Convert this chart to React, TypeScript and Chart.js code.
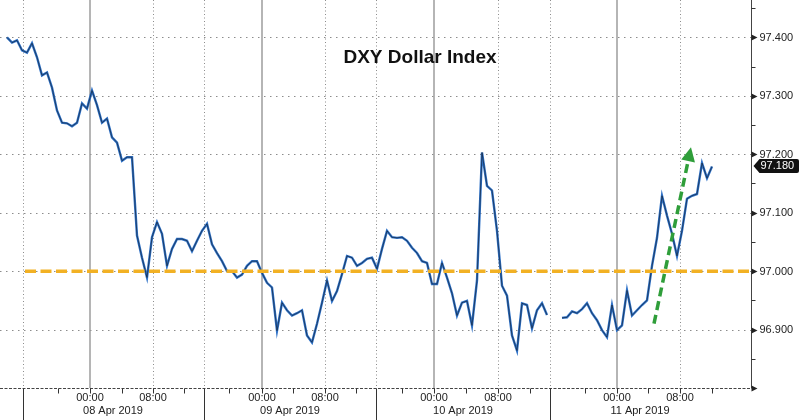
import React, { useEffect, useRef } from "react";
import { Chart, registerables } from "chart.js";

Chart.register(...registerables);

// DXY closes, one value per bar (evenly spaced bars), null = no trading
const dxy: (number | null)[] = [
  97.400, 97.391, 97.395, 97.378, 97.374, 97.390, 97.366, 97.335, 97.340, 97.314,
  97.275, 97.254, 97.253, 97.248, 97.254, 97.287, 97.278, 97.309, 97.284, 97.254,
  97.261, 97.229, 97.220, 97.189, 97.195, 97.195, 97.061, 97.023, 96.989, 97.058,
  97.084, 97.064, 97.009, 97.038, 97.055, 97.055, 97.052, 97.034, 97.052, 97.069,
  97.081, 97.046, 97.031, 97.017, 97.000, 97.000, 96.989, 96.994, 97.009, 97.017,
  97.017, 96.997, 96.980, 96.972, 96.898, 96.946, 96.933, 96.924, 96.928, 96.933,
  96.890, 96.878, 96.910, 96.946, 96.984, 96.949, 96.966, 96.995, 97.026, 97.023,
  97.009, 97.014, 97.021, 97.023, 97.004, 97.038, 97.069, 97.058, 97.057, 97.058,
  97.052, 97.040, 97.031, 97.017, 97.014, 96.978, 96.978, 97.014, 96.989, 96.962,
  96.924, 96.946, 96.949, 96.907, 96.984, 97.203, 97.146, 97.138, 97.069, 96.975,
  96.958, 96.890, 96.864, 96.945, 96.942, 96.902, 96.933, 96.945, 96.925, null,
  null, 96.920, 96.921, 96.931, 96.928, 96.935, 96.945, 96.928, 96.916, 96.899,
  96.887, 96.942, 96.899, 96.907, 96.967, 96.924, 96.933, 96.942, 96.950, 97.009,
  97.057, 97.129, 97.095, 97.064, 97.026, 97.069, 97.124, 97.129, 97.132, 97.185,
  97.159, 97.179,
];

// axis (bar-index units on x)
const xMin = -1.4;
const xMax = 148.8;
const yMin = 96.8;
const yMax = 97.464;
const yMajorTicks = [96.9, 97.0, 97.1, 97.2, 97.3, 97.4];
const yMinorTicks = [96.85, 96.95, 97.05, 97.15, 97.25, 97.35, 97.45];
const daySeparators = [3.2, 39.4, 73.8, 108.6];
const midnightTicks = [16.6, 51, 85.4, 122];
const eightTicks = [29.2, 63.6, 98.2, 134.6];
const minorXTicks = [10.2, 23, 35.4, 44.4, 57.2, 69.8, 79, 91.8, 104.6, 115.6, 128.2, 141];
const dateLabels = ["08 Apr 2019", "09 Apr 2019", "10 Apr 2019", "11 Apr 2019"];
const dateCenters = [21.2, 56.6, 91.2, 126.6];

const refLevel = 97.0;
const refStart = 3.6;
const arrowFrom = { x: 129.4, y: 96.91 };
const arrowTo = { x: 136.8, y: 97.212 };
const lastPrice = 97.18;
const title = "DXY Dollar Index";

const FONT = "'Liberation Sans', Arial, sans-serif";

const deco = {
  id: "deco",
  beforeDatasetsDraw(chart: any) {
    const { ctx, chartArea: a, scales } = chart;
    const x = scales.x, y = scales.y;
    ctx.save();
    ctx.strokeStyle = "#8c8c8c";
    ctx.lineWidth = 1;
    ctx.setLineDash([1.5, 4.5]);
    for (const v of yMajorTicks) {
      const py = Math.round(y.getPixelForValue(v)) + 0.5;
      ctx.beginPath(); ctx.moveTo(a.left, py); ctx.lineTo(a.right, py); ctx.stroke();
    }
    ctx.setLineDash([1, 2.5]);
    for (const v of [...eightTicks, ...daySeparators]) {
      const px = Math.round(x.getPixelForValue(v)) + 0.5;
      ctx.beginPath(); ctx.moveTo(px, a.top); ctx.lineTo(px, a.bottom); ctx.stroke();
    }
    ctx.setLineDash([]);
    ctx.strokeStyle = "#9c9c9c";
    ctx.lineWidth = 1.5;
    for (const v of midnightTicks) {
      const px = Math.round(x.getPixelForValue(v));
      ctx.beginPath(); ctx.moveTo(px, a.top); ctx.lineTo(px, a.bottom); ctx.stroke();
    }
    ctx.fillStyle = "#111";
    ctx.font = `bold 19px ${FONT}`;
    ctx.textAlign = "center";
    ctx.textBaseline = "middle";
    ctx.fillText(title, 420, 58);
    ctx.restore();
  },
  afterDatasetsDraw(chart: any) {
    const { ctx, chartArea: a, scales } = chart;
    const x = scales.x, y = scales.y;
    ctx.save();
    const ry = y.getPixelForValue(refLevel);
    ctx.strokeStyle = "#f2b124";
    ctx.lineWidth = 3.5;
    ctx.setLineDash([11, 4.5]);
    ctx.beginPath(); ctx.moveTo(x.getPixelForValue(refStart), ry); ctx.lineTo(a.right, ry); ctx.stroke();

    const x1 = x.getPixelForValue(arrowFrom.x), y1 = y.getPixelForValue(arrowFrom.y);
    const x2 = x.getPixelForValue(arrowTo.x), y2 = y.getPixelForValue(arrowTo.y);
    const ang = Math.atan2(y2 - y1, x2 - x1);
    const headLen = 14, headW = 7;
    const bx = x2 - headLen * Math.cos(ang), by = y2 - headLen * Math.sin(ang);
    ctx.strokeStyle = "#2f9e3a";
    ctx.lineWidth = 3.5;
    ctx.setLineDash([9, 5]);
    ctx.beginPath(); ctx.moveTo(x1, y1); ctx.lineTo(bx, by); ctx.stroke();
    ctx.setLineDash([]);
    ctx.fillStyle = "#2f9e3a";
    ctx.beginPath();
    ctx.moveTo(x2, y2);
    ctx.lineTo(bx + headW * Math.sin(ang), by - headW * Math.cos(ang));
    ctx.lineTo(bx - headW * Math.sin(ang), by + headW * Math.cos(ang));
    ctx.closePath(); ctx.fill();

    const by0 = Math.round(a.bottom) + 0.5;
    ctx.strokeStyle = "#444";
    ctx.lineWidth = 1;
    ctx.setLineDash([3, 1.5]);
    ctx.beginPath(); ctx.moveTo(0, by0); ctx.lineTo(a.right, by0); ctx.stroke();
    ctx.setLineDash([]);
    ctx.strokeStyle = "#333";
    for (const v of [...midnightTicks, ...eightTicks, ...minorXTicks]) {
      const px = Math.round(x.getPixelForValue(v)) + 0.5;
      ctx.beginPath(); ctx.moveTo(px, by0); ctx.lineTo(px, by0 + 5); ctx.stroke();
    }
    for (const v of daySeparators) {
      const px = Math.round(x.getPixelForValue(v)) + 0.5;
      ctx.beginPath(); ctx.moveTo(px, by0); ctx.lineTo(px, 420); ctx.stroke();
    }
    ctx.fillStyle = "#222";
    ctx.font = `11px ${FONT}`;
    ctx.textAlign = "center";
    ctx.textBaseline = "middle";
    for (const v of midnightTicks) ctx.fillText("00:00", x.getPixelForValue(v), 398);
    for (const v of eightTicks) ctx.fillText("08:00", x.getPixelForValue(v), 398);
    dateLabels.forEach((t, i) => ctx.fillText(t, x.getPixelForValue(dateCenters[i]), 411));

    const rx = Math.round(a.right) + 0.5;
    ctx.strokeStyle = "#444";
    ctx.beginPath(); ctx.moveTo(rx, 0); ctx.lineTo(rx, by0); ctx.stroke();
    ctx.strokeStyle = "#333";
    for (const v of yMinorTicks) {
      const py = Math.round(y.getPixelForValue(v)) + 0.5;
      ctx.beginPath(); ctx.moveTo(rx, py); ctx.lineTo(rx + 4, py); ctx.stroke();
    }
    ctx.fillStyle = "#222";
    for (const v of [yMin, ...yMajorTicks]) {
      const py = Math.round(y.getPixelForValue(v)) + 0.5;
      ctx.beginPath(); ctx.moveTo(rx, py - 3); ctx.lineTo(rx + 6, py); ctx.lineTo(rx, py + 3); ctx.closePath(); ctx.fill();
    }
    ctx.textAlign = "left";
    for (const v of yMajorTicks) {
      ctx.fillText(v.toFixed(3), rx + 8, y.getPixelForValue(v) + 0.5);
    }

    const py = y.getPixelForValue(lastPrice);
    ctx.fillStyle = "#111";
    ctx.beginPath();
    ctx.moveTo(rx + 2, py);
    ctx.lineTo(rx + 8, py - 7);
    ctx.lineTo(797, py - 7);
    ctx.quadraticCurveTo(799, py - 7, 799, py - 5);
    ctx.lineTo(799, py + 5);
    ctx.quadraticCurveTo(799, py + 7, 797, py + 7);
    ctx.lineTo(rx + 8, py + 7);
    ctx.closePath(); ctx.fill();
    ctx.fillStyle = "#fff";
    ctx.fillText(lastPrice.toFixed(3), rx + 9, py + 0.5);
    ctx.restore();
  },
};

export default function App() {
  const ref = useRef<HTMLCanvasElement>(null);
  useEffect(() => {
    if (!ref.current) return;
    const pts = dxy.map((v, i) => ({ x: i, y: v }));
    const chart = new Chart(ref.current, {
      type: "line",
      data: {
        datasets: [
          { data: pts as any, borderColor: "rgba(10,10,10,0.85)", borderWidth: 0.6, pointRadius: 0, spanGaps: false, tension: 0, order: 0 },
          { data: pts as any, borderColor: "#2f72c8", borderWidth: 2.4, pointRadius: 0, spanGaps: false, tension: 0, order: 1 },
        ],
      },
      options: {
        responsive: false,
        animation: false,
        devicePixelRatio: 1,
        layout: { padding: { left: 0, top: 0, right: 49, bottom: 32 } },
        plugins: { legend: { display: false }, tooltip: { enabled: false }, title: { display: false } },
        scales: {
          x: { type: "linear", min: xMin, max: xMax, display: false },
          y: { type: "linear", min: yMin, max: yMax, display: false },
        },
      },
      plugins: [deco],
    });
    return () => chart.destroy();
  }, []);
  return (
    <div style={{ position: "absolute", left: 0, top: 0, width: 800, height: 420, background: "#fff" }}>
      <canvas ref={ref} width={800} height={420} style={{ display: "block" }} />
    </div>
  );
}
